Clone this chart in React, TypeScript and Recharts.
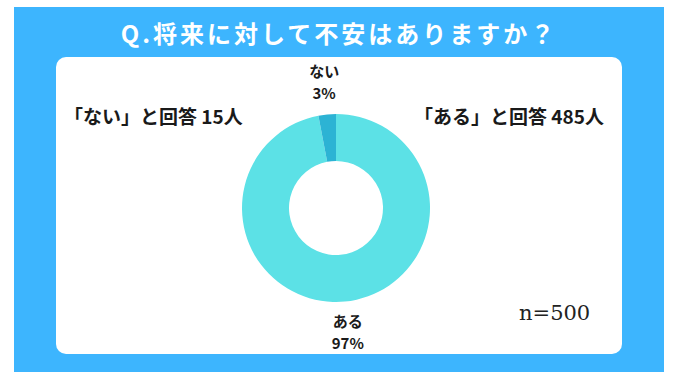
import { PieChart, Pie, Cell } from 'recharts'

const answers = ['ある', 'ない']
const counts = [485, 15]
const percents = [97, 3]
const colors = ['#5ce1e6', '#2cb3d4']

const data = answers.map((name, i) => ({ name, value: counts[i], pct: percents[i] }))

const RAD = Math.PI / 180
const FONT = '"Noto Sans CJK JP", "Noto Sans", sans-serif'

const renderLabel = (props: any) => {
  const { cx, cy, midAngle, outerRadius, payload } = props
  const r = outerRadius + 32
  const x = cx + r * Math.cos(-midAngle * RAD)
  const y = cy + r * Math.sin(-midAngle * RAD)
  return (
    <text x={x} y={y} textAnchor="middle" fill="#1a1a1a" fontFamily={FONT} fontWeight={700} fontSize={15}>
      <tspan x={x} dy={-6}>{payload.name}</tspan>
      <tspan x={x} dy={22}>{payload.pct}%</tspan>
    </text>
  )
}

export default function App() {
  return (
    <div style={{ position: 'absolute', left: 0, top: 0, width: 679, height: 384, background: '#fff', fontFamily: FONT }}>
      <div style={{ position: 'absolute', left: 14, top: 7, width: 650, height: 365, background: '#3db5fe' }} />
      <div style={{ position: 'absolute', left: 56, top: 57, width: 566, height: 297, background: '#fff', borderRadius: 10 }} />
      <div style={{ position: 'absolute', left: 14, top: 20, width: 650, textAlign: 'center', color: '#fff', fontSize: 24, fontWeight: 700, lineHeight: '26px', letterSpacing: 3 }}>
        Q.将来に対して不安はありますか？
      </div>
      <div style={{ position: 'absolute', left: 64, top: 104, color: '#1a1a1a', fontSize: 19, fontWeight: 700, lineHeight: '24px' }}>
        「{answers[1]}」と回答 {counts[1]}人
      </div>
      <div style={{ position: 'absolute', left: 414, top: 104, color: '#1a1a1a', fontSize: 19, fontWeight: 700, lineHeight: '24px' }}>
        「{answers[0]}」と回答 {counts[0]}人
      </div>
      <div style={{ position: 'absolute', left: 519, top: 300, color: '#222', fontSize: 21, fontFamily: '"DejaVu Serif", serif', lineHeight: '26px' }}>
        n={counts[0] + counts[1]}
      </div>
      <div style={{ position: 'absolute', left: 0, top: 0 }}>
        <PieChart width={679} height={384} margin={{ top: 0, right: 0, bottom: 0, left: 0 }}>
          <Pie
            data={data}
            dataKey="value"
            nameKey="name"
            cx={336}
            cy={208}
            innerRadius={47}
            outerRadius={94}
            startAngle={90}
            endAngle={-270}
            stroke="none"
            label={renderLabel}
            labelLine={false}
            isAnimationActive={false}
          >
            {data.map((d, i) => (
              <Cell key={d.name} fill={colors[i]} />
            ))}
          </Pie>
        </PieChart>
      </div>
    </div>
  )
}
